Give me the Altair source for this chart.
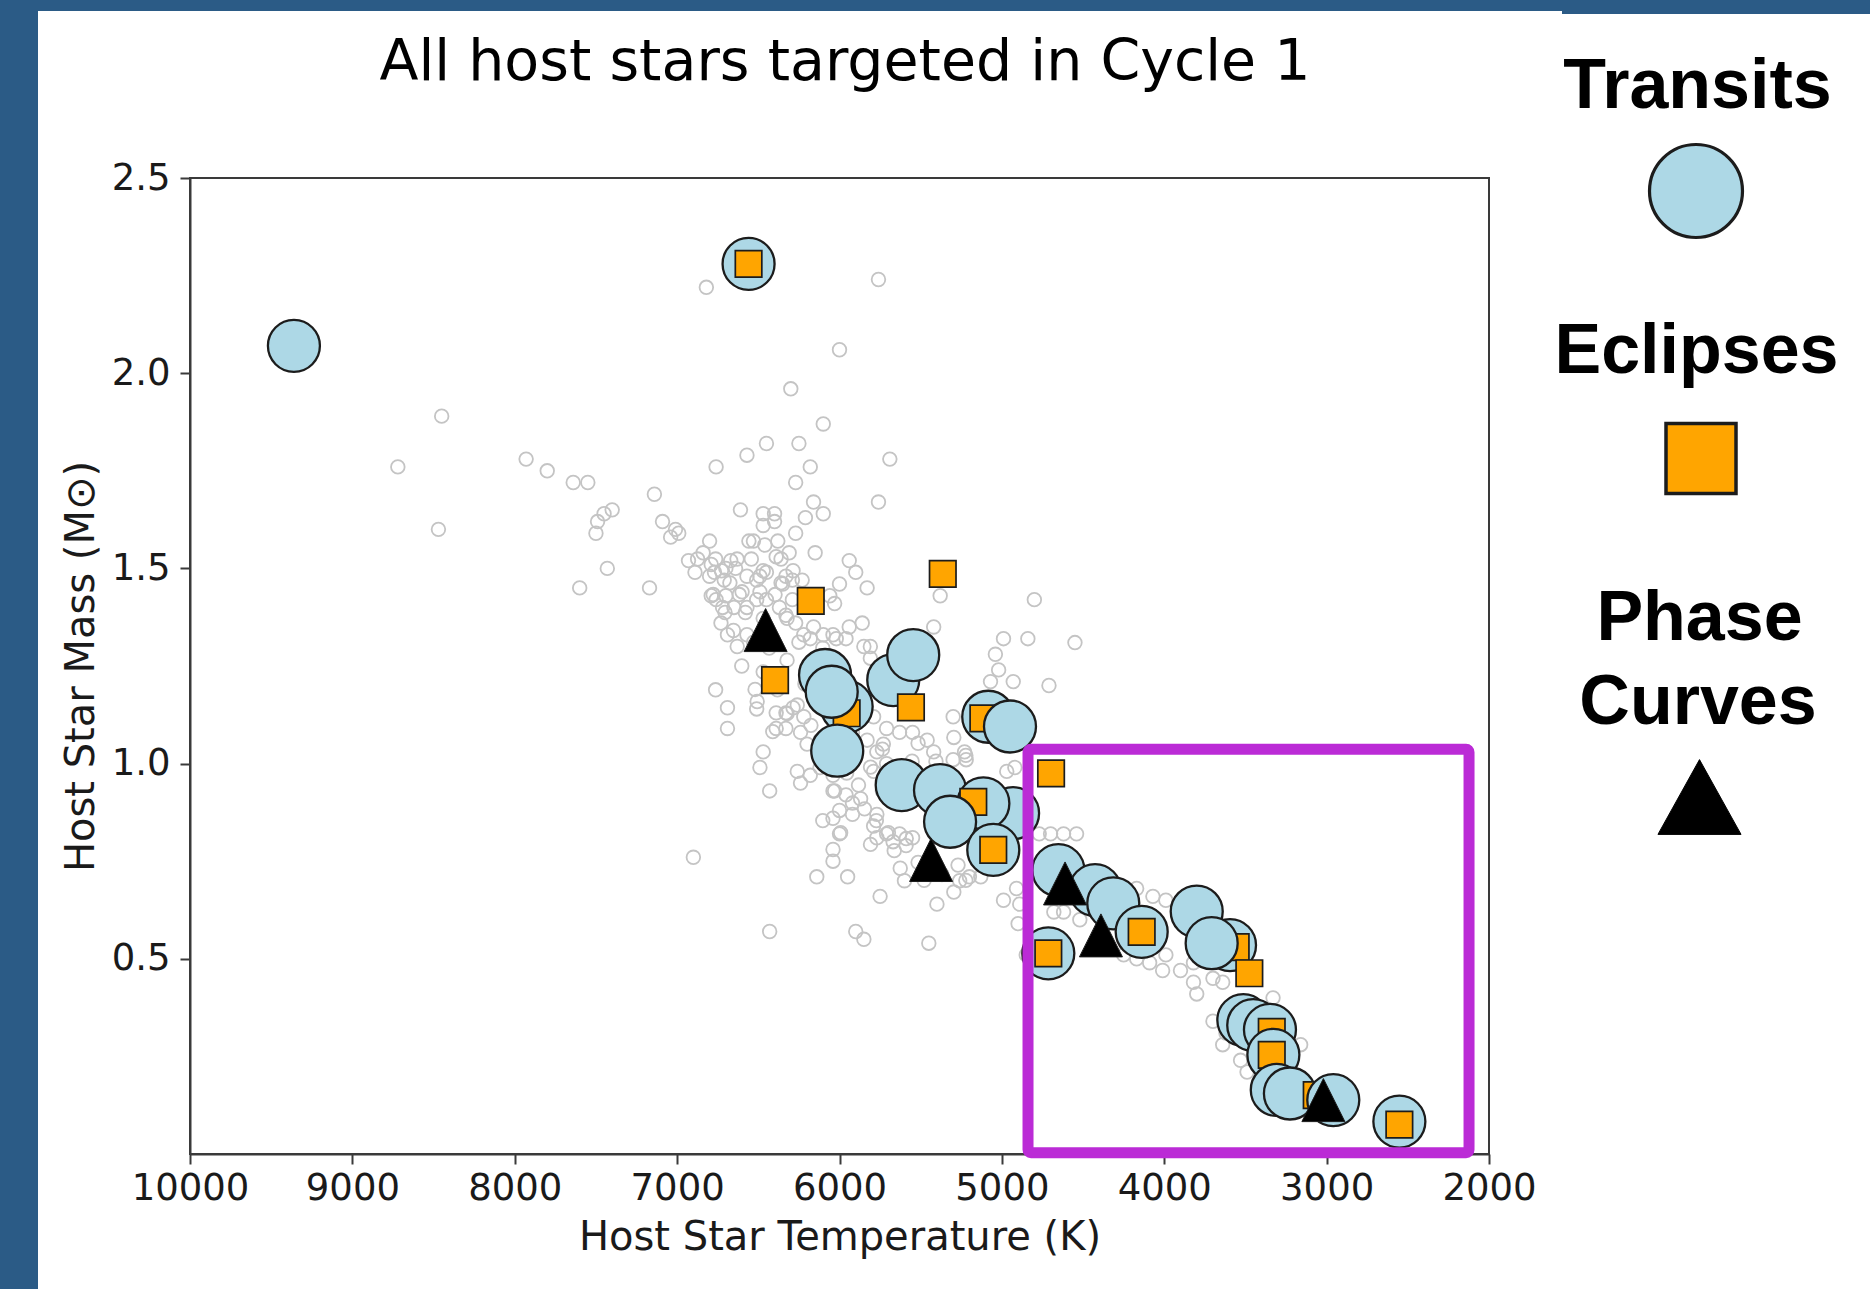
import altair as alt
import pandas as pd

# Background population of known exoplanet host stars (effective temperature in K, mass in solar masses)
grey_teff = [
    6820, 5760, 6000, 6300, 6100, 6450, 6250, 6570, 6760, 6180, 6270, 5690, 5760, 8450, 8720, 7930,
    7800, 7640, 7550, 8470, 7140, 7400, 7450, 7490, 7500, 7090, 7010, 7040, 6990, 6610, 6470, 6400,
    6470, 6400, 6160, 6100, 6210, 6270, 5940, 5900, 5830, 6000, 6150, 6530, 6380, 6310, 6840, 6930,
    6890, 6790, 6670, 6640, 6800, 6710, 6490, 6390, 7430, 7600, 7170, 6790, 6720, 6730, 6690, 6600,
    6570, 6490, 6350, 6230, 6030, 5940, 5860, 6270, 6180, 6100, 6020, 6630, 5810,
    6460, 6770, 6700, 6570, 6510, 6450, 6330, 6290, 6760, 6700, 6650, 6510, 6450, 6570, 6370, 6330,
    6290, 6060, 6160, 6220, 6040, 5960, 5850, 5810, 5420, 5380, 4800, 4990, 4840, 4550, 5040, 5020,
    5070, 4930, 4710, 6520, 6510, 6690, 6470, 6490, 6430, 6390, 6330, 6260, 6390, 6330, 6240, 6220,
    6200, 6120, 6260, 6240, 6180, 6900,
    5790, 5710, 5630, 5730, 5550, 5460, 5420, 5300, 5380, 6040, 5960, 5870, 6000, 5920, 6040, 6000,
    5790, 5770, 5710, 5670, 5630, 5590, 5550, 6040, 6040, 6140, 5950, 5750, 5400, 5600, 5270, 5260,
    6430, 5900, 5850, 5450, 4990, 4910, 4540, 4700, 5130, 5200, 4900, 5130, 4680, 4620, 4520, 5770,
    4970, 4920, 4770, 4620, 4890, 4850, 4270, 4170, 4070, 3990, 4250, 4170, 4090, 4010, 3900, 3990,
    3820, 3800, 3820, 3700, 3640, 3700, 3640, 3620, 3530, 3490, 3330, 3160, 5300, 5230, 5220, 5920,
    5830, 5770, 5710, 5790, 5630, 6040, 6120,
    6763, 6727, 6675, 6617, 6580, 6653, 6543, 6470, 6397, 6360, 6470, 6323, 6433, 6323, 6250, 6176,
    6103, 6213, 6286, 6176, 6103, 6030, 5956, 5883, 5809, 5736, 5846, 5773, 5699, 5809, 5663, 5589,
    5516, 5626, 5479, 5369, 5296, 5222, 5736, 5663, 5553, 5516, 5406, 5296, 5222, 6030, 5920, 6103,
    5993, 6800, 6874, 6778, 6705, 6631, 6558, 6360, 6286, 6529, 6602, 6470, 6382, 6507, 6323, 6411,
    6763, 6690,
]
grey_mass = [
    2.22, 2.24, 2.06, 1.96, 1.87, 1.82, 1.82, 1.79, 1.76, 1.76, 1.72, 1.78, 1.67, 1.89, 1.76, 1.78,
    1.75, 1.72, 1.72, 1.60, 1.69, 1.65, 1.64, 1.62, 1.59, 1.62, 1.60, 1.58, 1.59, 1.65, 1.64, 1.64,
    1.61, 1.62, 1.67, 1.64, 1.63, 1.59, 1.52, 1.49, 1.45, 1.46, 1.54, 1.57, 1.57, 1.54, 1.54, 1.52,
    1.49, 1.51, 1.52, 1.50, 1.48, 1.47, 1.48, 1.53, 1.50, 1.45, 1.45, 1.43, 1.40, 1.36, 1.33, 1.44,
    1.40, 1.44, 1.46, 1.47, 1.41, 1.35, 1.36, 1.36, 1.32, 1.33, 1.32, 1.30, 1.30,
    1.56, 1.49, 1.50, 1.48, 1.47, 1.49, 1.48, 1.47, 1.42, 1.43, 1.40, 1.42, 1.42, 1.33, 1.40, 1.38,
    1.42, 1.43, 1.35, 1.33, 1.33, 1.32, 1.30, 1.27, 1.35, 1.43, 1.42, 1.32, 1.32, 1.31, 1.28, 1.24,
    1.21, 1.21, 1.20, 1.19, 1.14, 1.09, 1.03, 0.99, 0.93, 1.13, 1.13, 1.15, 1.09, 1.09, 1.08, 1.12,
    1.05, 1.06, 0.98, 0.95, 0.97, 0.76,
    1.12, 1.09, 1.08, 1.05, 1.08, 1.06, 1.03, 1.01, 0.98, 0.93, 0.92, 0.91, 0.88, 0.87, 0.86, 0.82,
    0.84, 0.81, 0.82, 0.80, 0.82, 0.79, 0.81, 0.78, 0.75, 0.71, 0.71, 0.66, 0.64, 0.70, 0.74, 0.70,
    0.57, 0.57, 0.55, 0.54, 0.65, 0.68, 0.82, 0.82, 0.74, 0.71, 0.59, 0.71, 0.62, 0.62, 0.60, 0.87,
    0.98, 0.99, 0.82, 0.82, 0.64, 0.51, 0.68, 0.68, 0.66, 0.65, 0.51, 0.50, 0.49, 0.47, 0.47, 0.51,
    0.49, 0.41, 0.44, 0.45, 0.44, 0.34, 0.28, 0.31, 0.24, 0.21, 0.40, 0.28, 1.12, 1.03, 1.01, 1.08,
    1.06, 1.03, 1.00, 0.98, 0.99, 0.97, 0.99,
    1.524, 1.494, 1.463, 1.433, 1.387, 1.341, 1.524, 1.494, 1.433, 1.463, 1.372, 1.372, 1.296, 1.265, 1.311, 1.250,
    1.296, 1.204, 1.143, 1.098, 1.052, 1.006, 0.976, 0.945, 0.991, 1.037, 0.884, 0.854, 0.823, 0.793, 0.777, 0.808,
    0.747, 0.732, 0.701, 0.716, 0.671, 0.701, 0.930, 0.976, 1.006, 1.052, 1.006, 1.067, 1.021, 0.930, 0.899, 0.854,
    0.823, 1.570, 1.524, 1.433, 1.387, 1.524, 1.570, 1.524, 1.494, 1.311, 1.250, 1.235, 1.189, 1.159, 1.128, 1.082,
    1.189, 1.143,
]

# Cycle 1 targets, listed in the order they are plotted
target_kind = [
    "Transit", "Transit", "Eclipse", "Transit", "Eclipse", "Transit", "Transit", "Transit",
    "Transit", "Transit", "Transit", "Eclipse", "Transit", "Transit", "Eclipse", "Transit",
    "Transit", "Transit", "Eclipse", "Transit", "Transit", "Eclipse", "Eclipse", "Transit",
    "Eclipse", "Transit", "Transit", "Transit", "Eclipse", "Transit", "Eclipse", "Transit",
    "Transit", "Eclipse", "Transit", "Eclipse", "Transit", "Transit", "Transit", "Eclipse",
    "Transit", "Eclipse", "Transit", "Transit", "Eclipse", "Transit", "Transit", "Eclipse",
    "Eclipse", "Eclipse", "Eclipse", "Eclipse",
    "Phase Curve", "Phase Curve", "Phase Curve", "Phase Curve", "Phase Curve",
]
target_teff = [
    9360, 6560, 6560, 5956, 5956, 6089, 6048, 6014,
    5669, 5546, 5084, 5114, 4950, 5617, 4931, 4931,
    5381, 5114, 5176, 5319, 5053, 5053, 4697, 4652,
    4457, 4426, 4314, 4139, 4139, 4714, 4714, 3800,
    3595, 3560, 3708, 3476, 3513, 3452, 3349, 3338,
    3328, 3338, 3307, 3226, 3061, 2959, 2552, 2552,
    6177, 6397, 5364, 5560,
    6455, 5436, 4611, 4390, 3020,
]
target_mass = [
    2.07, 2.28, 2.28, 1.146, 1.129, 1.227, 1.184, 1.033,
    1.214, 1.278, 1.120, 1.116, 1.095, 0.945, 0.864, 0.873,
    0.932, 0.898, 0.902, 0.851, 0.779, 0.779, 0.975, 0.727,
    0.685, 0.676, 0.642, 0.569, 0.569, 0.514, 0.514, 0.621,
    0.535, 0.530, 0.540, 0.463, 0.343, 0.330, 0.318, 0.313,
    0.254, 0.254, 0.164, 0.155, 0.151, 0.138, 0.083, 0.075,
    1.417, 1.214, 1.486, 1.144,
    1.342, 0.753, 0.693, 0.560, 0.138,
]

# Highlighted region: M dwarfs and late K dwarfs
box_teff = [4839, 2123]
box_mass = [1.037, 0.003]

x_ticks = [10000, 9000, 8000, 7000, 6000, 5000, 4000, 3000, 2000]
y_ticks = [0.5, 1.0, 1.5, 2.0, 2.5]
legend_labels = ["Transits", "Eclipses", "Phase", "Curves"]

TRIANGLE = "M0,-1L1,1L-1,1Z"
style = {
    "Transit": {"shape": "circle", "fill": "#add8e6", "size": 2704, "sw": 2.3},
    "Eclipse": {"shape": "square", "fill": "#ffa500", "size": 702, "sw": 1.7},
    "Phase Curve": {"shape": TRIANGLE, "fill": "#000000", "size": 1849, "sw": 1.0},
}

grey = pd.DataFrame({"teff": grey_teff, "mass": grey_mass})
targets = pd.DataFrame({"kind": target_kind, "teff": target_teff, "mass": target_mass})
targets["shape"] = targets["kind"].map(lambda k: style[k]["shape"])
targets["fill"] = targets["kind"].map(lambda k: style[k]["fill"])
targets["msize"] = targets["kind"].map(lambda k: style[k]["size"])
targets["sw"] = targets["kind"].map(lambda k: style[k]["sw"])
box = pd.DataFrame({"t0": [box_teff[0]], "t1": [box_teff[1]], "m0": [box_mass[0]], "m1": [box_mass[1]]})
one = pd.DataFrame({"k": [0]})

FONT = "DejaVu Sans"
INK = "#1a1a1a"
SPINE = "#3a3a3a"

x_scale = alt.Scale(domain=[2000, 10000], reverse=True, nice=False, zero=False)
y_scale = alt.Scale(domain=[0, 2.5], nice=False, zero=False)
x_axis = alt.Axis(
    title="Host Star Temperature (K)", values=x_ticks, format="d", grid=False,
    tickSize=10, tickWidth=2, tickColor=SPINE, domainColor=SPINE, domainWidth=2,
    labelFont=FONT, labelFontSize=37, labelColor=INK, labelPadding=6,
    labelFlush=False, labelOverlap=False,
    titleFont=FONT, titleFontSize=40, titleFontWeight="normal", titleColor=INK, titlePadding=11,
)
y_axis = alt.Axis(
    title="Host Star Mass (M⊙)", values=y_ticks, format=".1f", grid=False,
    tickSize=10, tickWidth=2, tickColor=SPINE, domainColor=SPINE, domainWidth=2,
    labelFont=FONT, labelFontSize=37, labelColor=INK, labelPadding=10,
    labelFlush=False, labelOverlap=False,
    titleFont=FONT, titleFontSize=40, titleFontWeight="normal", titleColor=INK, titlePadding=10,
)

def xq(field):
    return alt.X(f"{field}:Q", scale=x_scale, axis=x_axis)

def yq(field):
    return alt.Y(f"{field}:Q", scale=y_scale, axis=y_axis)

# Slide frame strips along the left and top edges
frame_blue = "#2b5b86"
frame = alt.layer(
    alt.Chart(one).mark_rect(color=frame_blue).encode(
        x=alt.value(-190), x2=alt.value(-152), y=alt.value(-178), y2=alt.value(1111)),
    alt.Chart(one).mark_rect(color=frame_blue).encode(
        x=alt.value(-190), x2=alt.value(1680), y=alt.value(-178), y2=alt.value(-167)),
    alt.Chart(one).mark_rect(color=frame_blue).encode(
        x=alt.value(1372), x2=alt.value(1680), y=alt.value(-178), y2=alt.value(-164)),
)

background_stars = alt.Chart(grey).mark_point(
    filled=False, stroke="#c4c4c4", strokeWidth=1.8, size=185, opacity=1
).encode(x=xq("teff"), y=yq("mass"))

cycle1 = alt.Chart(targets).mark_point(filled=True, opacity=1, stroke="#1c1c1c").encode(
    x=xq("teff"),
    y=yq("mass"),
    shape=alt.Shape("shape:N", scale=None),
    fill=alt.Fill("fill:N", scale=None),
    size=alt.Size("msize:Q", scale=None),
    strokeWidth=alt.StrokeWidth("sw:Q", scale=None),
)

highlight = alt.Chart(box).mark_rect(
    fillOpacity=0, stroke="#bb2bd6", strokeWidth=11, strokeJoin="round", cornerRadius=3
).encode(x=xq("t0"), x2="t1", y=yq("m0"), y2="m1")

title = alt.Chart(one).mark_text(
    font=FONT, fontSize=57, color="black", align="center", baseline="alphabetic"
).encode(x=alt.value(655), y=alt.value(-98), text=alt.value("All host stars targeted in Cycle 1"))

# Marker key on the right
key_font = dict(font="Liberation Sans", fontWeight="bold", fontSize=70, color="black",
                align="center", baseline="alphabetic")
key_text_pos = [(1507.5, -70), (1506.5, 195), (1509.5, 462), (1508, 546)]
key_texts = [
    alt.Chart(one).mark_text(**key_font).encode(
        x=alt.value(px), y=alt.value(py), text=alt.value(label))
    for label, (px, py) in zip(legend_labels, key_text_pos)
]
key_circle = alt.Chart(one).mark_point(
    shape="circle", filled=True, fill="#add8e6", stroke="#1c1c1c", strokeWidth=3.2, size=8650, opacity=1
).encode(x=alt.value(1506), y=alt.value(13))
key_square = alt.Chart(one).mark_point(
    shape="square", filled=True, fill="#ffa500", stroke="#1c1c1c", strokeWidth=3.5, size=4900, opacity=1
).encode(x=alt.value(1511), y=alt.value(280.5))
key_triangle = alt.Chart(one).mark_point(
    shape="M0,-0.9L1,0.9L-1,0.9Z", filled=True, fill="black", stroke="black", strokeWidth=1,
    size=6900, opacity=1
).encode(x=alt.value(1509.5), y=alt.value(619))

chart = alt.layer(
    frame, background_stars, cycle1, highlight, title,
    key_circle, key_square, key_triangle, *key_texts,
).properties(
    width=1299, height=976,
    autosize=alt.AutoSizeParams(type="none"),
    padding={"left": 190, "top": 178, "right": 381, "bottom": 135},
    background="white",
).configure_view(stroke=SPINE, strokeWidth=2)

chart.save("out.html", embed_options={"renderer": "svg", "actions": False})
